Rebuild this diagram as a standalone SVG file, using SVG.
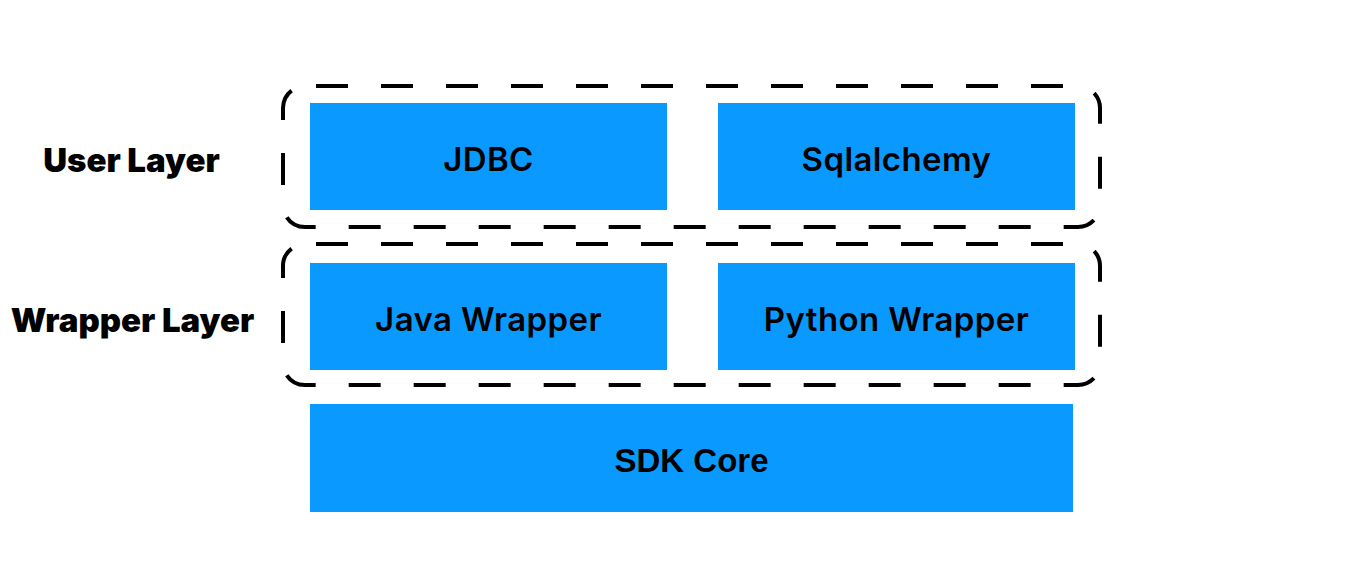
<svg xmlns="http://www.w3.org/2000/svg" width="1368" height="582" viewBox="0 0 1368 582">
<style>
.box{fill:#0A99FF}
.grp{fill:none;stroke:#000;stroke-width:4;stroke-dasharray:32 33;stroke-dashoffset:54}
.t{font-family:Inter,"Noto Sans",sans-serif;font-weight:600;font-size:33px;letter-spacing:0.4px;fill:#000;text-anchor:middle;dominant-baseline:central}
.lbl{font-family:Inter,"Noto Sans",sans-serif;font-weight:900;font-size:33px;fill:#000;text-anchor:middle;dominant-baseline:central}
.core{font-family:"Liberation Sans",Arial,sans-serif;font-weight:700;font-size:33px;fill:#000;text-anchor:middle;dominant-baseline:central}
</style>
<rect width="1368" height="582" fill="#fff"/>
<g id="user-layer">
<rect class="grp" x="283" y="86" width="817" height="141" rx="22"/>
<text class="lbl" x="131.5" y="160">User Layer</text>
</g>
<g id="wrapper-layer">
<rect class="grp" x="283" y="244" width="817" height="141" rx="22"/>
<text class="lbl" x="132.5" y="320">Wrapper Layer</text>
</g>
<g id="jdbc"><rect class="box" x="310" y="103" width="357" height="107"/><text class="t" x="488.5" y="159">JDBC</text></g>
<g id="sqlalchemy"><rect class="box" x="718" y="103" width="357" height="107"/><text class="t" x="896.5" y="159">Sqlalchemy</text></g>
<g id="java-wrapper"><rect class="box" x="310" y="263" width="357" height="107"/><text class="t" x="488.5" y="319">Java Wrapper</text></g>
<g id="python-wrapper"><rect class="box" x="718" y="263" width="357" height="107"/><text class="t" x="896.5" y="319">Python Wrapper</text></g>
<g id="sdk-core"><rect class="box" x="310" y="404" width="763" height="108"/><text class="core" x="691.5" y="460">SDK Core</text></g>
<g id="connectors"/>
</svg>
